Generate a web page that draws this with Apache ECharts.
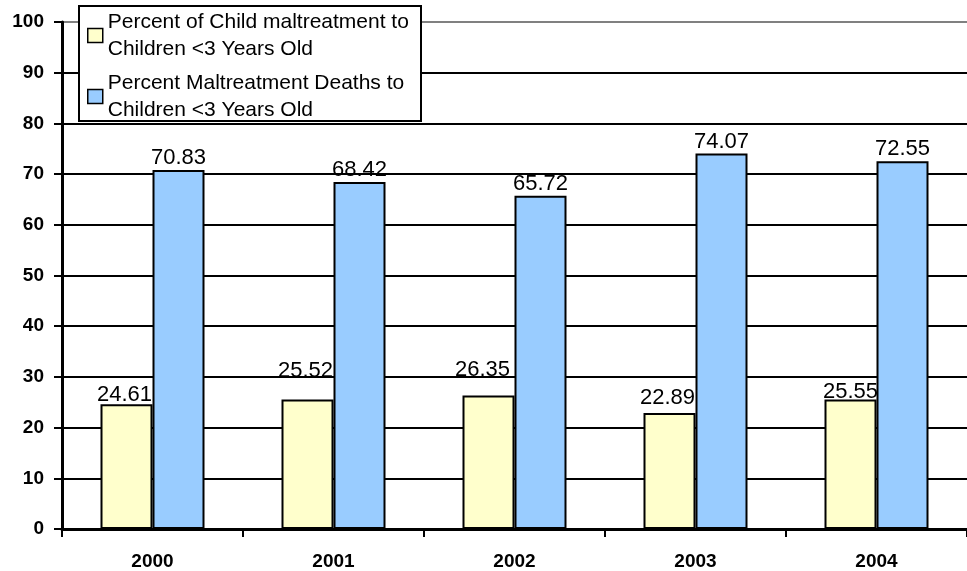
<!DOCTYPE html>
<html><head><meta charset="utf-8">
<script src="https://cdn.jsdelivr.net/npm/echarts@6/dist/echarts.min.js"></script>
<style>html,body{margin:0;padding:0;background:#fff}#c{width:967px;height:571px}</style>
</head><body><div id="c"></div>
<script>
var categories = ['2000', '2001', '2002', '2003', '2004'];
var seriesNames = ['Percent of Child maltreatment to\nChildren <3 Years Old', 'Percent Maltreatment Deaths to\nChildren <3 Years Old'];
var maltreatmentPct = [24.61, 25.52, 26.35, 22.89, 25.55];
var deathsPct = [70.83, 68.42, 65.72, 74.07, 72.55];
var yTicks = [0, 10, 20, 30, 40, 50, 60, 70, 80, 90, 100];

// label nudges reproducing the reference's placement of the yellow-bar labels
var yellowLabelOffsets = [[-2, 3], [-2, -17], [-6, -13], [-2, -3], [0, 4]];

var FONT = 'Liberation Sans';
var chart = echarts.init(document.getElementById('c'), null, {renderer: 'canvas'});
var gridColors = yTicks.map(function (v, i) { return i === yTicks.length - 1 ? '#808080' : '#000000'; });

chart.setOption({
  animation: false,
  backgroundColor: '#ffffff',
  textStyle: {fontFamily: FONT},
  grid: {left: 62, top: 22, bottom: 41, right: -9, containLabel: false},
  graphic: [{
    type: 'rect', z: 3,
    shape: {x: 79, y: 6, width: 342, height: 115},
    style: {fill: '#ffffff', stroke: '#000000', lineWidth: 2}
  }],
  legend: {
    z: 5,
    orient: 'vertical',
    left: 87, top: -5,
    padding: 0,
    itemWidth: 15, itemHeight: 14,
    itemGap: -20,
    icon: 'rect',
    selectedMode: false,
    itemStyle: {borderColor: '#000', borderWidth: 1.5},
    textStyle: {fontFamily: FONT, fontSize: 21, color: '#000', lineHeight: 27, padding: [27, 0, 0, 0]},
    data: seriesNames
  },
  xAxis: {
    type: 'category',
    data: categories,
    axisLine: {lineStyle: {color: '#000', width: 3}},
    axisTick: {show: true, length: 8, lineStyle: {color: '#000', width: 2}, alignWithLabel: false},
    axisLabel: {fontFamily: FONT, fontSize: 19, fontWeight: 'bold', color: '#000', margin: 23}
  },
  yAxis: {
    type: 'value',
    min: 0, max: 100, interval: 10,
    axisLine: {show: true, lineStyle: {color: '#000', width: 3}},
    axisTick: {show: true, length: 8, lineStyle: {color: '#000', width: 2}},
    axisLabel: {fontFamily: FONT, fontSize: 19, fontWeight: 'bold', color: '#000', margin: 18},
    splitLine: {show: true, lineStyle: {color: gridColors, width: 2}}
  },
  series: [{
    name: seriesNames[0],
    type: 'bar',
    barWidth: 52,
    barGap: '0%',
    itemStyle: {color: '#FFFFCC', borderColor: '#000', borderWidth: 2},
    label: {show: true, position: 'top', distance: 1, fontFamily: FONT, fontSize: 22, color: '#000'},
    data: maltreatmentPct.map(function (v, i) {
      return {value: v, label: {offset: yellowLabelOffsets[i]}};
    })
  }, {
    name: seriesNames[1],
    type: 'bar',
    barWidth: 52,
    barGap: '0%',
    itemStyle: {color: '#99CCFF', borderColor: '#000', borderWidth: 2},
    label: {show: true, position: 'top', distance: 1, fontFamily: FONT, fontSize: 22, color: '#000'},
    data: deathsPct
  }]
});
</script></body></html>
